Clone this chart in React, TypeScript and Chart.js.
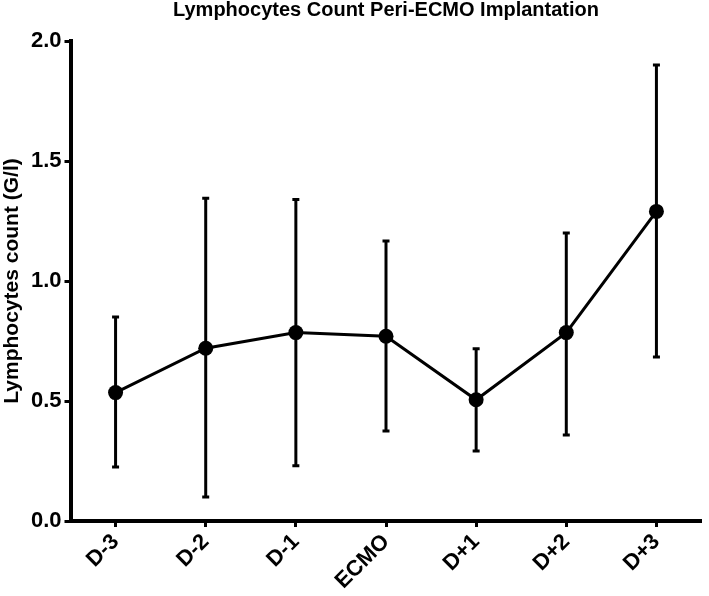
import React, { useEffect, useRef } from "react";
import { Chart, registerables } from "chart.js";

Chart.register(...registerables);

const categories = ["D-3", "D-2", "D-1", "ECMO", "D+1", "D+2", "D+3"];
const means = [0.535, 0.72, 0.785, 0.77, 0.505, 0.785, 1.29];
const upperValues = [0.85, 1.345, 1.34, 1.167, 0.718, 1.2, 1.9];
const lowerValues = [0.225, 0.1, 0.23, 0.375, 0.292, 0.358, 0.683];
const yTicks = [0, 0.5, 1.0, 1.5, 2.0];

const FONT = "'Liberation Sans', Arial, Helvetica, sans-serif";

const errorBarPlugin = {
  id: "errorBars",
  beforeDatasetsDraw(chart: any) {
    const { ctx, scales } = chart;
    const xs = scales.x;
    const ys = scales.y;
    ctx.save();
    ctx.strokeStyle = "#000";
    ctx.lineWidth = 3;
    ctx.lineCap = "butt";
    for (let i = 0; i < categories.length; i++) {
      const x = xs.getPixelForValue(i);
      const yu = ys.getPixelForValue(upperValues[i]);
      const yl = ys.getPixelForValue(lowerValues[i]);
      ctx.beginPath();
      ctx.moveTo(x, yu);
      ctx.lineTo(x, yl);
      ctx.stroke();
      ctx.beginPath();
      ctx.moveTo(x - 3.5, yu);
      ctx.lineTo(x + 3.5, yu);
      ctx.moveTo(x - 3.5, yl);
      ctx.lineTo(x + 3.5, yl);
      ctx.stroke();
    }
    ctx.restore();
  },
};

export default function App() {
  const ref = useRef<HTMLCanvasElement | null>(null);
  useEffect(() => {
    if (!ref.current) return;
    const chart = new Chart(ref.current, {
      type: "line",
      data: {
        labels: categories,
        datasets: [
          {
            data: means,
            borderColor: "#000",
            backgroundColor: "#000",
            borderWidth: 3,
            pointRadius: 7.5,
            pointBackgroundColor: "#000",
            pointBorderColor: "#000",
            pointBorderWidth: 0,
            tension: 0,
            fill: false,
          },
        ],
      },
      options: {
        responsive: false,
        animation: false,
        devicePixelRatio: 1,
        layout: { padding: { top: 0, left: 0, right: 2.6, bottom: 0 } },
        plugins: {
          legend: { display: false },
          tooltip: { enabled: false },
          title: {
            display: true,
            text: "Lymphocytes Count Peri-ECMO Implantation",
            fullSize: false,
            color: "#000",
            font: { family: FONT, size: 20, weight: "bold", lineHeight: 1.0 },
            padding: { top: 0, bottom: 21 },
          },
        },
        scales: {
          x: {
            type: "category",
            offset: true,
            afterFit(scale: any) {
              scale.height = 75;
            },
            border: { display: true, color: "#000", width: 4 },
            grid: {
              display: true,
              offset: false,
              drawOnChartArea: false,
              drawTicks: true,
              tickLength: 6,
              tickWidth: 3,
              tickColor: "#000",
              color: "#000",
            },
            ticks: {
              color: "#000",
              font: { family: FONT, size: 22, weight: "bold" },
              minRotation: 45,
              maxRotation: 45,
              padding: 2,
              autoSkip: false,
            },
          },
          y: {
            min: 0,
            max: 2,
            afterFit(scale: any) {
              scale.width = 70.5;
            },
            afterBuildTicks(scale: any) {
              scale.ticks = yTicks.map((v) => ({ value: v }));
            },
            border: { display: true, color: "#000", width: 4 },
            grid: {
              display: true,
              drawOnChartArea: false,
              drawTicks: true,
              tickLength: 6,
              tickWidth: 3,
              tickColor: "#000",
              color: "#000",
            },
            ticks: {
              color: "#000",
              font: { family: FONT, size: 22, weight: "bold" },
              padding: 3,
              callback: (v: any) => Number(v).toFixed(1),
            },
            title: {
              display: true,
              text: "Lymphocytes count (G/l)",
              color: "#000",
              font: { family: FONT, size: 21, weight: "bold", lineHeight: 1.2 },
              padding: { top: 0, bottom: 0 },
            },
          },
        },
      },
      plugins: [errorBarPlugin],
    });
    return () => chart.destroy();
  }, []);
  return (
    <div style={{ position: "absolute", left: 0, top: 0, width: 709, height: 596, background: "#fff" }}>
      <canvas ref={ref} width={709} height={596} style={{ display: "block" }} />
    </div>
  );
}
